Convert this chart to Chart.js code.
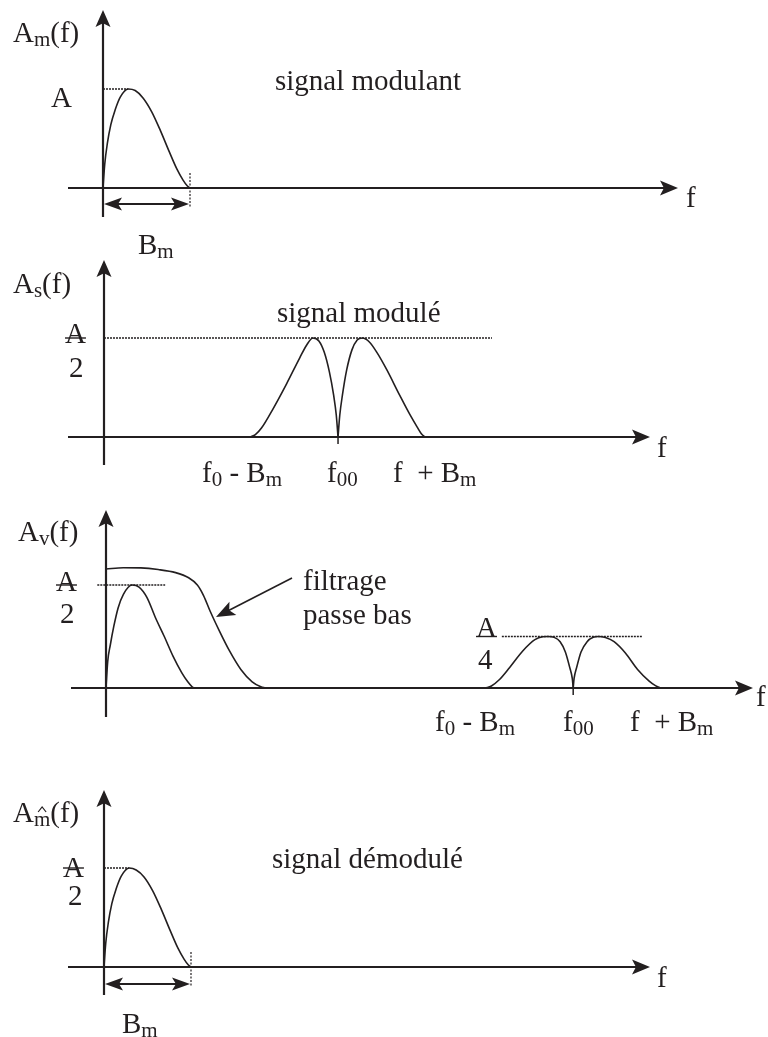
<!DOCTYPE html>
<html>
<head>
<meta charset="utf-8">
<title>Modulation / démodulation</title>
<script src="https://cdn.jsdelivr.net/npm/chart.js@4.4.1/dist/chart.umd.min.js"></script>
<style>
  html, body { margin: 0; padding: 0; background: #fff; }
  body { position: relative; width: 768px; height: 1037px; overflow: hidden; }
  canvas { position: absolute; left: 0; }
</style>
</head>
<body>
<canvas id="c1" width="768" height="270" style="top:0px"></canvas>
<canvas id="c2" width="768" height="250" style="top:250px"></canvas>
<canvas id="c3" width="768" height="265" style="top:495px"></canvas>
<canvas id="c4" width="768" height="272" style="top:765px"></canvas>
<script>
// x in units of Bm (0 = vertical axis), y in units of A

// signal modulant
const modX = [0, 0.02, 0.05, 0.09, 0.14, 0.2, 0.29, 0.37, 0.46, 0.56, 0.66, 0.76, 0.85, 0.92, 0.97, 1.0]
const modY = [0, 0.24, 0.45, 0.64, 0.79, 0.92, 1.0, 0.985, 0.91, 0.77, 0.58, 0.37, 0.19, 0.08, 0.02, 0]
const refX1 = [0, 0.29]
const refY1 = [1, 1]

// signal modulé (two side bands around f0)
const lsbX = [1.68, 1.74, 1.81, 1.94, 2.10, 2.25, 2.33, 2.40, 2.47, 2.53, 2.59, 2.64, 2.67, 2.69]
const lsbY = [0, 0.012, 0.045, 0.14, 0.27, 0.40, 0.465, 0.5, 0.485, 0.43, 0.33, 0.21, 0.11, 0]
const usbX = [2.69, 2.71, 2.74, 2.79, 2.85, 2.91, 2.97, 3.05, 3.14, 3.25, 3.40, 3.52, 3.60, 3.65, 3.69]
const usbY = [0, 0.11, 0.21, 0.34, 0.44, 0.49, 0.5, 0.48, 0.425, 0.34, 0.21, 0.11, 0.05, 0.015, 0]
const refX2 = [0, 4.46]
const refY2 = [0.5, 0.5]

// signal multiplié + filtre passe bas
const baseX = [0, 0.02, 0.05, 0.09, 0.14, 0.2, 0.3, 0.38, 0.47, 0.57, 0.67, 0.77, 0.87, 0.94, 0.99, 1.02]
const baseY = [0, 0.13, 0.21, 0.3, 0.39, 0.455, 0.5, 0.49, 0.44, 0.34, 0.25, 0.155, 0.075, 0.03, 0.006, 0]
const filtX = [0, 0.2, 0.4, 0.6, 0.8, 0.95, 1.05, 1.12, 1.2, 1.3, 1.42, 1.55, 1.68, 1.78, 1.83]
const filtY = [0.578, 0.584, 0.583, 0.575, 0.56, 0.535, 0.5, 0.45, 0.37, 0.28, 0.18, 0.09, 0.03, 0.006, 0]
const lsb3X = [4.36, 4.43, 4.52, 4.64, 4.79, 4.93, 5.02, 5.08, 5.15, 5.22, 5.28, 5.33, 5.36, 5.37]
const lsb3Y = [0, 0.01, 0.04, 0.10, 0.18, 0.235, 0.249, 0.25, 0.246, 0.225, 0.175, 0.1, 0.045, 0]
const usb3X = [5.37, 5.38, 5.41, 5.46, 5.53, 5.60, 5.66, 5.74, 5.84, 5.97, 6.11, 6.24, 6.32, 6.37]
const usb3Y = [0, 0.045, 0.1, 0.175, 0.225, 0.246, 0.25, 0.245, 0.225, 0.17, 0.09, 0.035, 0.01, 0]
const refX3a = [-0.1, 0.68]
const refY3a = [0.5, 0.5]
const refX3b = [4.55, 6.16]
const refY3b = [0.25, 0.25]

// signal démodulé
const demX = [0, 0.02, 0.05, 0.09, 0.14, 0.2, 0.29, 0.37, 0.46, 0.56, 0.66, 0.76, 0.85, 0.92, 0.97, 1.0]
const demY = [0, 0.12, 0.225, 0.32, 0.395, 0.46, 0.5, 0.49, 0.455, 0.385, 0.29, 0.185, 0.095, 0.04, 0.01, 0]

// labels
const freqLabels = ['f_0 - B_m', 'f_00', 'f  + B_m']
const axisNames = ['A_m(f)', 'A_s(f)', 'A_v(f)', 'A_^m(f)']
const captions = ['signal modulant', 'signal modulé', 'signal démodulé']

const INK = '#231f20'
const MAIN = '29px "Liberation Serif", "Times New Roman", serif'
const SMALL = '21px "Liberation Serif", "Times New Roman", serif'

function pts(xs, ys) {
  return xs.map((x, i) => ({ x: x, y: ys[i] }))
}

function curve(xs, ys) {
  return { data: pts(xs, ys), borderColor: INK, borderWidth: 1.6, pointRadius: 0, fill: false, cubicInterpolationMode: 'monotone' }
}

function level(xs, ys) {
  return { data: pts(xs, ys), borderColor: INK, borderWidth: 1.7, borderDash: [2, 1], pointRadius: 0, fill: false, tension: 0 }
}

function seg(c, x0, y0, x1, y1) {
  c.beginPath()
  c.moveTo(x0, y0)
  c.lineTo(x1, y1)
  c.stroke()
}

function head(c, x, y, ang, len, half) {
  c.save()
  c.translate(x, y)
  c.rotate(ang)
  c.beginPath()
  c.moveTo(0, 0)
  c.lineTo(-len, -half)
  c.lineTo(-len * 0.78, 0)
  c.lineTo(-len, half)
  c.closePath()
  c.fill()
  c.restore()
}

// text with _sub parts, _^sub gets a hat
function rich(c, s, x, y) {
  const parts = s.split(/_(\^?\w+)/)
  let cx = x
  parts.forEach((p, i) => {
    if (i % 2 === 0) {
      c.font = MAIN
      c.fillText(p, cx, y)
      cx += c.measureText(p).width
    } else {
      const hat = p[0] === '^'
      const t = hat ? p.slice(1) : p
      c.font = SMALL
      c.fillText(t, cx, y + 4)
      const w = c.measureText(t).width
      if (hat) {
        c.lineWidth = 1.2
        c.beginPath()
        c.moveTo(cx + w / 2 - 4, y - 10)
        c.lineTo(cx + w / 2, y - 15)
        c.lineTo(cx + w / 2 + 4, y - 10)
        c.stroke()
      }
      cx += w
    }
  })
  return cx - x
}

function sketch(deco) {
  return {
    id: 'sketch',
    afterDatasetsDraw(chart) {
      const c = chart.ctx
      const X = v => chart.scales.x.getPixelForValue(v)
      const Y = v => chart.scales.y.getPixelForValue(v)
      const ox = X(0), oy = Y(0)
      const a = deco.axis
      c.save()
      c.strokeStyle = INK
      c.fillStyle = INK
      c.textAlign = 'left'
      c.textBaseline = 'alphabetic'

      // axes
      c.lineWidth = 2.2
      seg(c, ox + a.x0, oy, ox + a.x1 - 8, oy)
      seg(c, ox, oy + a.y0, ox, oy + a.y1 + 8)
      head(c, ox + a.x1, oy, 0, 18, 7.5)
      head(c, ox, oy + a.y1, -Math.PI / 2, 17, 7.5)

      // bandwidth marker
      if (deco.band) {
        const b = deco.band, bx = X(b.x)
        c.lineWidth = 1.2
        c.setLineDash([2, 1.5])
        seg(c, bx, oy + b.top, bx, oy + b.bottom)
        c.setLineDash([])
        c.lineWidth = 1.9
        seg(c, ox + 10, oy + b.dy, bx - 10, oy + b.dy)
        head(c, ox + 1, oy + b.dy, Math.PI, 18, 6.5)
        head(c, bx - 1, oy + b.dy, 0, 18, 6.5)
      }

      // tick under the carrier
      c.lineWidth = 1.5
      ;(deco.ticks || []).forEach(v => seg(c, X(v), oy, X(v), oy + 7))

      // pointer arrow
      if (deco.pointer) {
        const p = deco.pointer
        const ang = Math.atan2(p.y1 - p.y0, p.x1 - p.x0)
        c.lineWidth = 1.6
        seg(c, ox + p.x0, oy + p.y0, ox + p.x1 - 12 * Math.cos(ang), oy + p.y1 - 12 * Math.sin(ang))
        head(c, ox + p.x1, oy + p.y1, ang, 19, 7.5)
      }

      // texts
      deco.texts.forEach(t => {
        const w = rich(c, t.s, ox + t.dx, oy + t.dy)
        if (t.bar != null) {
          c.lineWidth = 1.4
          seg(c, ox + t.dx, Y(t.bar), ox + t.dx + w, Y(t.bar))
        }
      })
      c.restore()
    }
  }
}

function panel(id, oxPx, oyPx, pxX, pxY, datasets, deco) {
  const cv = document.getElementById(id)
  const w = cv.width, h = cv.height
  return new Chart(cv, {
    type: 'line',
    data: { datasets: datasets },
    options: {
      responsive: false,
      animation: false,
      events: [],
      layout: { padding: 0 },
      plugins: { legend: { display: false }, tooltip: { enabled: false } },
      scales: {
        x: { type: 'linear', display: false, bounds: 'data', min: -oxPx / pxX, max: (w - oxPx) / pxX },
        y: { type: 'linear', display: false, bounds: 'data', min: -(h - oyPx) / pxY, max: oyPx / pxY }
      }
    },
    plugins: [sketch(deco)]
  })
}

panel('c1', 103, 188, 87, 99,
  [curve(modX, modY), level(refX1, refY1)],
  {
    axis: { x0: -35, x1: 575, y0: 29, y1: -178 },
    band: { x: modX[modX.length - 1], top: -15, bottom: 19, dy: 16 },
    texts: [
      { s: axisNames[0], dx: -90, dy: -146 },
      { s: 'A', dx: -52, dy: -81 },
      { s: captions[0], dx: 172, dy: -98 },
      { s: 'B_m', dx: 35, dy: 66 },
      { s: 'f', dx: 583, dy: 19 }
    ]
  })

panel('c2', 104, 187, 87, 198,
  [curve(lsbX, lsbY), curve(usbX, usbY), level(refX2, refY2)],
  {
    axis: { x0: -36, x1: 546, y0: 28, y1: -177 },
    ticks: [lsbX[lsbX.length - 1]],
    texts: [
      { s: axisNames[1], dx: -91, dy: -144 },
      { s: 'A', dx: -39, dy: -94, bar: 0.5 },
      { s: '2', dx: -35, dy: -60 },
      { s: captions[1], dx: 173, dy: -115 },
      { s: freqLabels[0], dx: 98, dy: 45 },
      { s: freqLabels[1], dx: 223, dy: 45 },
      { s: freqLabels[2], dx: 289, dy: 45 },
      { s: 'f', dx: 553, dy: 20 }
    ]
  })

panel('c3', 106, 193, 87, 206,
  [curve(baseX, baseY), curve(filtX, filtY), curve(lsb3X, lsb3Y), curve(usb3X, usb3Y),
   level(refX3a, refY3a), level(refX3b, refY3b)],
  {
    axis: { x0: -35, x1: 647, y0: 29, y1: -178 },
    ticks: [lsb3X[lsb3X.length - 1]],
    pointer: { x0: 186, y0: -110, x1: 110, y1: -71 },
    texts: [
      { s: axisNames[2], dx: -88, dy: -147 },
      { s: 'A', dx: -50, dy: -97, bar: 0.5 },
      { s: '2', dx: -46, dy: -65 },
      { s: 'filtrage', dx: 197, dy: -98 },
      { s: 'passe bas', dx: 197, dy: -64 },
      { s: 'A', dx: 370, dy: -51, bar: 0.25 },
      { s: '4', dx: 372, dy: -19 },
      { s: freqLabels[0], dx: 329, dy: 43 },
      { s: freqLabels[1], dx: 457, dy: 43 },
      { s: freqLabels[2], dx: 524, dy: 43 },
      { s: 'f', dx: 650, dy: 18 }
    ]
  })

panel('c4', 104, 202, 87, 198,
  [curve(demX, demY), level(refX1, refY2)],
  {
    axis: { x0: -36, x1: 546, y0: 28, y1: -177 },
    band: { x: demX[demX.length - 1], top: -15, bottom: 20, dy: 17 },
    texts: [
      { s: axisNames[3], dx: -91, dy: -145 },
      { s: 'A', dx: -41, dy: -90, bar: 0.5 },
      { s: '2', dx: -36, dy: -62 },
      { s: captions[2], dx: 168, dy: -99 },
      { s: 'B_m', dx: 18, dy: 66 },
      { s: 'f', dx: 553, dy: 20 }
    ]
  })
</script>
</body>
</html>
